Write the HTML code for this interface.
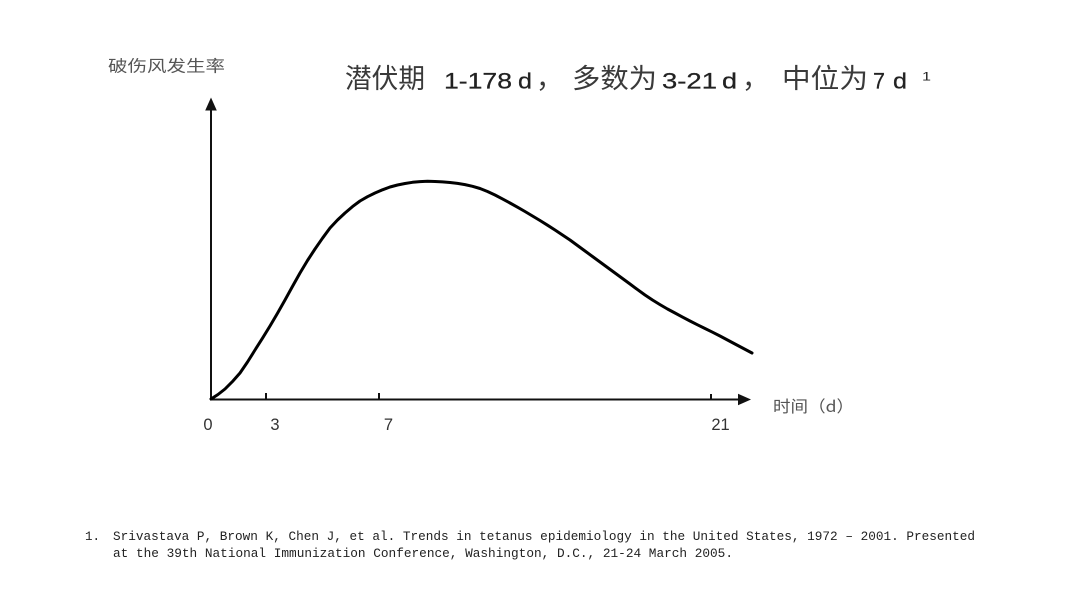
<!DOCTYPE html>
<html><head><meta charset="utf-8"><style>
html,body{margin:0;padding:0;background:#fff;}
svg{display:block;}
</style></head><body>
<svg width="1080" height="601" viewBox="0 0 1080 601" xmlns="http://www.w3.org/2000/svg">
<rect width="1080" height="601" fill="#fff"/>
<!-- title -->
<g fill="#222" font-family="'Liberation Sans','Noto Sans CJK SC',sans-serif">
<g fill="#3a3a3a" font-family="'Noto Sans CJK SC',sans-serif" font-size="27">
<text x="345" y="88" textLength="80" lengthAdjust="spacingAndGlyphs">潜伏期</text>
<text x="536" y="88">，</text>
<text x="572" y="88" textLength="85" lengthAdjust="spacingAndGlyphs">多数为</text>
<text x="742" y="88">，</text>
<text x="782" y="88" textLength="86" lengthAdjust="spacingAndGlyphs">中位为</text>
</g>
<g stroke="#222" stroke-width="0.25" font-size="22">
<text x="444" y="88.5" textLength="68" lengthAdjust="spacingAndGlyphs">1-178</text>
<text x="518" y="88.5" textLength="14" lengthAdjust="spacingAndGlyphs">d</text>
<text x="662" y="88.5" textLength="55" lengthAdjust="spacingAndGlyphs">3-21</text>
<text x="722" y="88.5" textLength="15" lengthAdjust="spacingAndGlyphs">d</text>
<text x="873" y="88.5" textLength="12" lengthAdjust="spacingAndGlyphs">7</text>
<text x="893" y="88.5" textLength="14" lengthAdjust="spacingAndGlyphs">d</text>
</g>
<text x="922" y="80.5" font-size="12" textLength="9" lengthAdjust="spacingAndGlyphs">1</text>
</g>
<!-- y label -->
<text x="108" y="71.5" font-size="16" fill="#555" font-family="'Noto Sans CJK SC',sans-serif" textLength="117" lengthAdjust="spacingAndGlyphs">破伤风发生率</text>
<!-- x label -->
<text x="773" y="412" font-size="16" fill="#555" font-family="'Noto Sans CJK SC',sans-serif" textLength="81" lengthAdjust="spacingAndGlyphs">时间（d）</text>
<!-- axes -->
<g stroke="#111" stroke-width="2" fill="none">
<line x1="211" y1="400" x2="211" y2="108"/>
<line x1="210" y1="399.5" x2="740" y2="399.5"/>
<line x1="266" y1="399" x2="266" y2="393"/>
<line x1="379" y1="399" x2="379" y2="393"/>
<line x1="711" y1="399" x2="711" y2="394"/>
</g>
<polygon points="211,97.5 205.2,110.5 216.8,110.5" fill="#111"/>
<polygon points="751,399.5 738,393.8 738,405.2" fill="#111"/>
<!-- tick labels -->
<g font-family="'Liberation Sans',sans-serif" font-size="16.5" fill="#333" text-anchor="middle">
<text x="208" y="430">0</text>
<text x="275" y="430">3</text>
<text x="388.5" y="430">7</text>
<text x="720.5" y="430">21</text>
</g>
<!-- curve -->
<polyline points="211,399 218,394.5 225,389 232.5,381.5 240,373 247.5,362 255,350 262.5,338.2 270,326 277.5,313.2 285,300 292.5,286.4 300,273 307.5,260.5 315,249 322.5,238.2 330,228 337.5,220 345,213 352.5,206.6 360,201 367.5,196.7 375,193 382.5,189.8 390,187 397.5,185 405,183.5 412.5,182.3 420,181.6 427.5,181.3 435,181.5 442.5,181.9 450,182.5 457.5,183.4 465,184.6 472.5,186.3 480,188.5 487.5,191.5 495,195 502.5,198.9 510,203 517.5,207.2 525,211.5 532.5,216 540,220.5 547.5,225.2 555,230 562.5,235 570,240 577.5,245.5 585,251 592.5,256.5 600,262 607.5,267.5 615,273 622.5,278.5 630,284 637.5,289.6 645,295 652.5,300 660,304.6 667.5,309 675,313 682.5,317.1 690,321 697.5,324.8 705,328.5 712.5,332.2 720,336 727.5,340 735,344 743.5,348.5 752,353" fill="none" stroke="#000" stroke-width="3" stroke-linecap="round" stroke-linejoin="round"/>
<!-- footnote -->
<g font-family="'Liberation Mono','Noto Sans CJK SC',monospace" font-size="12.5" fill="#222">
<text x="85" y="540">1.</text>
<text x="113" y="540" textLength="862" lengthAdjust="spacingAndGlyphs">Srivastava P, Brown K, Chen J, et al. Trends in tetanus epidemiology in the United States, 1972 – 2001. Presented</text>
<text x="113" y="557" textLength="620" lengthAdjust="spacingAndGlyphs">at the 39th National Immunization Conference, Washington, D.C., 21-24 March 2005.</text>
</g>
</svg>
</body></html>
